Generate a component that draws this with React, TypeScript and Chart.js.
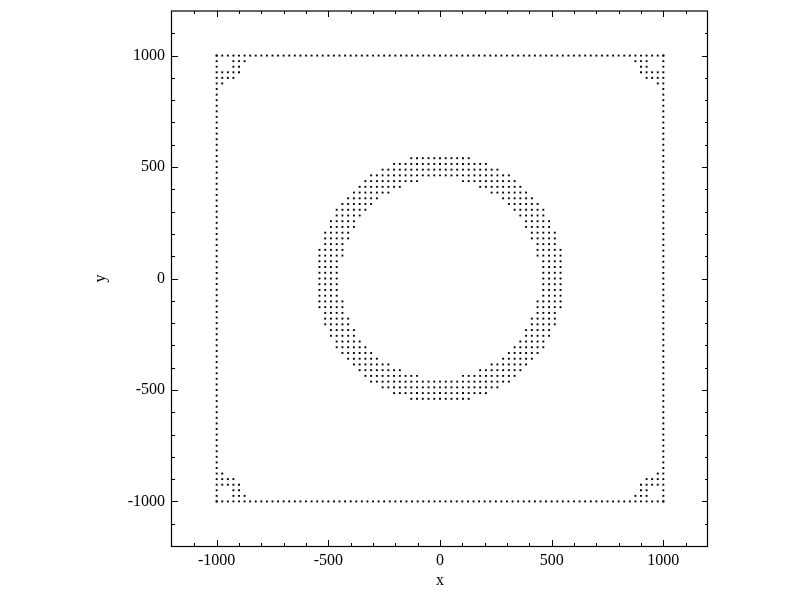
import { useEffect, useRef } from "react";
import { Chart, registerables } from "chart.js";

Chart.register(...registerables);

// ---- axes ----
const axisMin = -1200;
const axisMax = 1200;
const tickLabels = [-1000, -500, 0, 500, 1000];
const tickMarks = [-1100, -1000, -900, -800, -700, -600, -500, -400, -300, -200, -100, 0, 100, 200, 300, 400, 500, 600, 700, 800, 900, 1000, 1100];
const xTitle = "x";
const yTitle = "y";

// ---- dotted square frame ----
const frameDots = [
  -1000, -975, -950, -925, -900, -875, -850, -825, -800, -775, -750, -725, -700, -675, -650, -625, -600, -575, -550, -525,
  -500, -475, -450, -425, -400, -375, -350, -325, -300, -275, -250, -225, -200, -175, -150, -125, -100, -75, -50, -25,
  0, 25, 50, 75, 100, 125, 150, 175, 200, 225, 250, 275, 300, 325, 350, 375, 400, 425, 450, 475,
  500, 525, 550, 575, 600, 625, 650, 675, 700, 725, 750, 775, 800, 825, 850, 875, 900, 925, 950, 975, 1000,
];
const frameEdge = 1000;
const frameStep = 25;
// dots inside each corner: [columns in from the corner, rows in from the corner]
const cornerDots: [number, number][] = [
  [3, 1], [4, 1], [5, 1],
  [3, 2], [4, 2],
  [1, 3], [2, 3], [3, 3], [4, 3],
  [1, 4], [2, 4], [3, 4],
  [1, 5],
];

// ---- dotted ring: [grid row, first column, last column] (mirrored left/right) ----
const ringStep = 25.7;
const ringRows: [number, number, number][] = [
  [21, 0, 5], [20, 0, 8], [19, 0, 10], [18, 0, 12], [17, 4, 13], [16, 7, 14], [15, 9, 15],
  [14, 11, 16], [13, 12, 17], [12, 13, 18], [11, 14, 18], [10, 15, 19], [9, 15, 19], [8, 16, 20],
  [7, 16, 20], [6, 17, 20], [5, 17, 21], [4, 17, 21], [3, 18, 21], [2, 18, 21], [1, 18, 21],
  [0, 18, 21],
  [-1, 18, 21], [-2, 18, 21], [-3, 18, 21], [-4, 17, 21], [-5, 17, 21], [-6, 17, 20], [-7, 16, 20],
  [-8, 16, 20], [-9, 15, 19], [-10, 15, 19], [-11, 14, 18], [-12, 13, 18], [-13, 12, 17], [-14, 11, 16],
  [-15, 9, 15], [-16, 7, 14], [-17, 4, 13], [-18, 0, 12], [-19, 0, 10], [-20, 0, 8], [-21, 0, 5],
];

function buildPoints() {
  const pts: { x: number; y: number }[] = [];
  for (const v of frameDots) {
    pts.push({ x: v, y: frameEdge }, { x: v, y: -frameEdge }, { x: -frameEdge, y: v }, { x: frameEdge, y: v });
  }
  for (const [c, r] of cornerDots) {
    for (const sx of [-1, 1]) {
      for (const sy of [-1, 1]) {
        pts.push({ x: sx * (frameEdge - c * frameStep), y: sy * (frameEdge - r * frameStep) });
      }
    }
  }
  for (const [j, a, b] of ringRows) {
    for (let k = a; k <= b; k++) {
      pts.push({ x: k * ringStep, y: j * ringStep });
      if (k > 0) pts.push({ x: -k * ringStep, y: j * ringStep });
    }
  }
  return pts;
}

const FONT = "'Liberation Serif', 'DejaVu Serif', serif";

const frameTicks = {
  id: "frameTicks",
  afterDatasetsDraw(chart: any) {
    const { ctx, chartArea: a, scales } = chart;
    const xs = scales.x;
    const ys = scales.y;
    ctx.save();
    ctx.strokeStyle = "#000";
    ctx.lineWidth = 1.2;
    ctx.strokeRect(a.left - 0.5, a.top, a.right - a.left, a.bottom - a.top + 0.5);
    ctx.lineWidth = 1;
    ctx.beginPath();
    for (const v of tickMarks) {
      const len = v % 500 === 0 ? 6 : 3;
      const px = Math.round(xs.getPixelForValue(v)) + 0.5;
      ctx.moveTo(px, a.bottom);
      ctx.lineTo(px, a.bottom - len);
      ctx.moveTo(px, a.top);
      ctx.lineTo(px, a.top + len);
      const py = Math.round(ys.getPixelForValue(v)) + 0.5;
      ctx.moveTo(a.left, py);
      ctx.lineTo(a.left + len, py);
      ctx.moveTo(a.right, py);
      ctx.lineTo(a.right - len, py);
    }
    ctx.stroke();
    ctx.restore();
  },
};

export default function App() {
  const ref = useRef<HTMLCanvasElement | null>(null);
  useEffect(() => {
    if (!ref.current) return;
    const setTicks = (scale: any) => {
      scale.ticks = tickLabels.map((v) => ({ value: v }));
    };
    const chart = new Chart(ref.current, {
      type: "scatter",
      data: {
        datasets: [
          {
            data: buildPoints(),
            pointStyle: "rect",
            pointRadius: 1.35,
            pointHoverRadius: 1.35,
            pointBorderWidth: 0,
            backgroundColor: "#000",
            borderColor: "#000",
          },
        ],
      },
      options: {
        responsive: false,
        animation: false,
        events: [],
        layout: { padding: { left: 0, right: 92, top: 11, bottom: 0 } },
        plugins: { legend: { display: false }, tooltip: { enabled: false } },
        scales: {
          x: {
            type: "linear",
            min: axisMin,
            max: axisMax,
            grid: { display: false, drawTicks: false },
            border: { display: false },
            afterBuildTicks: setTicks,
            afterFit: (s: any) => {
              s.height = 54;
              s.paddingLeft = 0;
              s.paddingRight = 0;
            },
            ticks: {
              padding: 5,
              color: "#000",
              font: { family: FONT, size: 16 },
              callback: (v: any) => String(v),
            },
            title: {
              display: true,
              text: xTitle,
              color: "#000",
              font: { family: FONT, size: 16 },
              padding: { top: 0, bottom: 10 },
            },
          },
          y: {
            type: "linear",
            min: axisMin,
            max: axisMax,
            grid: { display: false, drawTicks: false },
            border: { display: false },
            afterBuildTicks: setTicks,
            afterFit: (s: any) => {
              s.width = 172;
              s.paddingTop = 0;
              s.paddingBottom = 0;
            },
            ticks: {
              padding: 7,
              color: "#000",
              font: { family: FONT, size: 16 },
              callback: (v: any) => String(v),
            },
            title: {
              display: true,
              text: yTitle,
              color: "#000",
              font: { family: FONT, size: 16 },
              padding: { top: 91, bottom: 0 },
            },
          },
        },
      },
      plugins: [frameTicks],
    });
    return () => chart.destroy();
  }, []);
  return (
    <div style={{ position: "absolute", left: 0, top: 0, width: 800, height: 600, background: "#fff" }}>
      <canvas ref={ref} width={800} height={600} />
    </div>
  );
}
